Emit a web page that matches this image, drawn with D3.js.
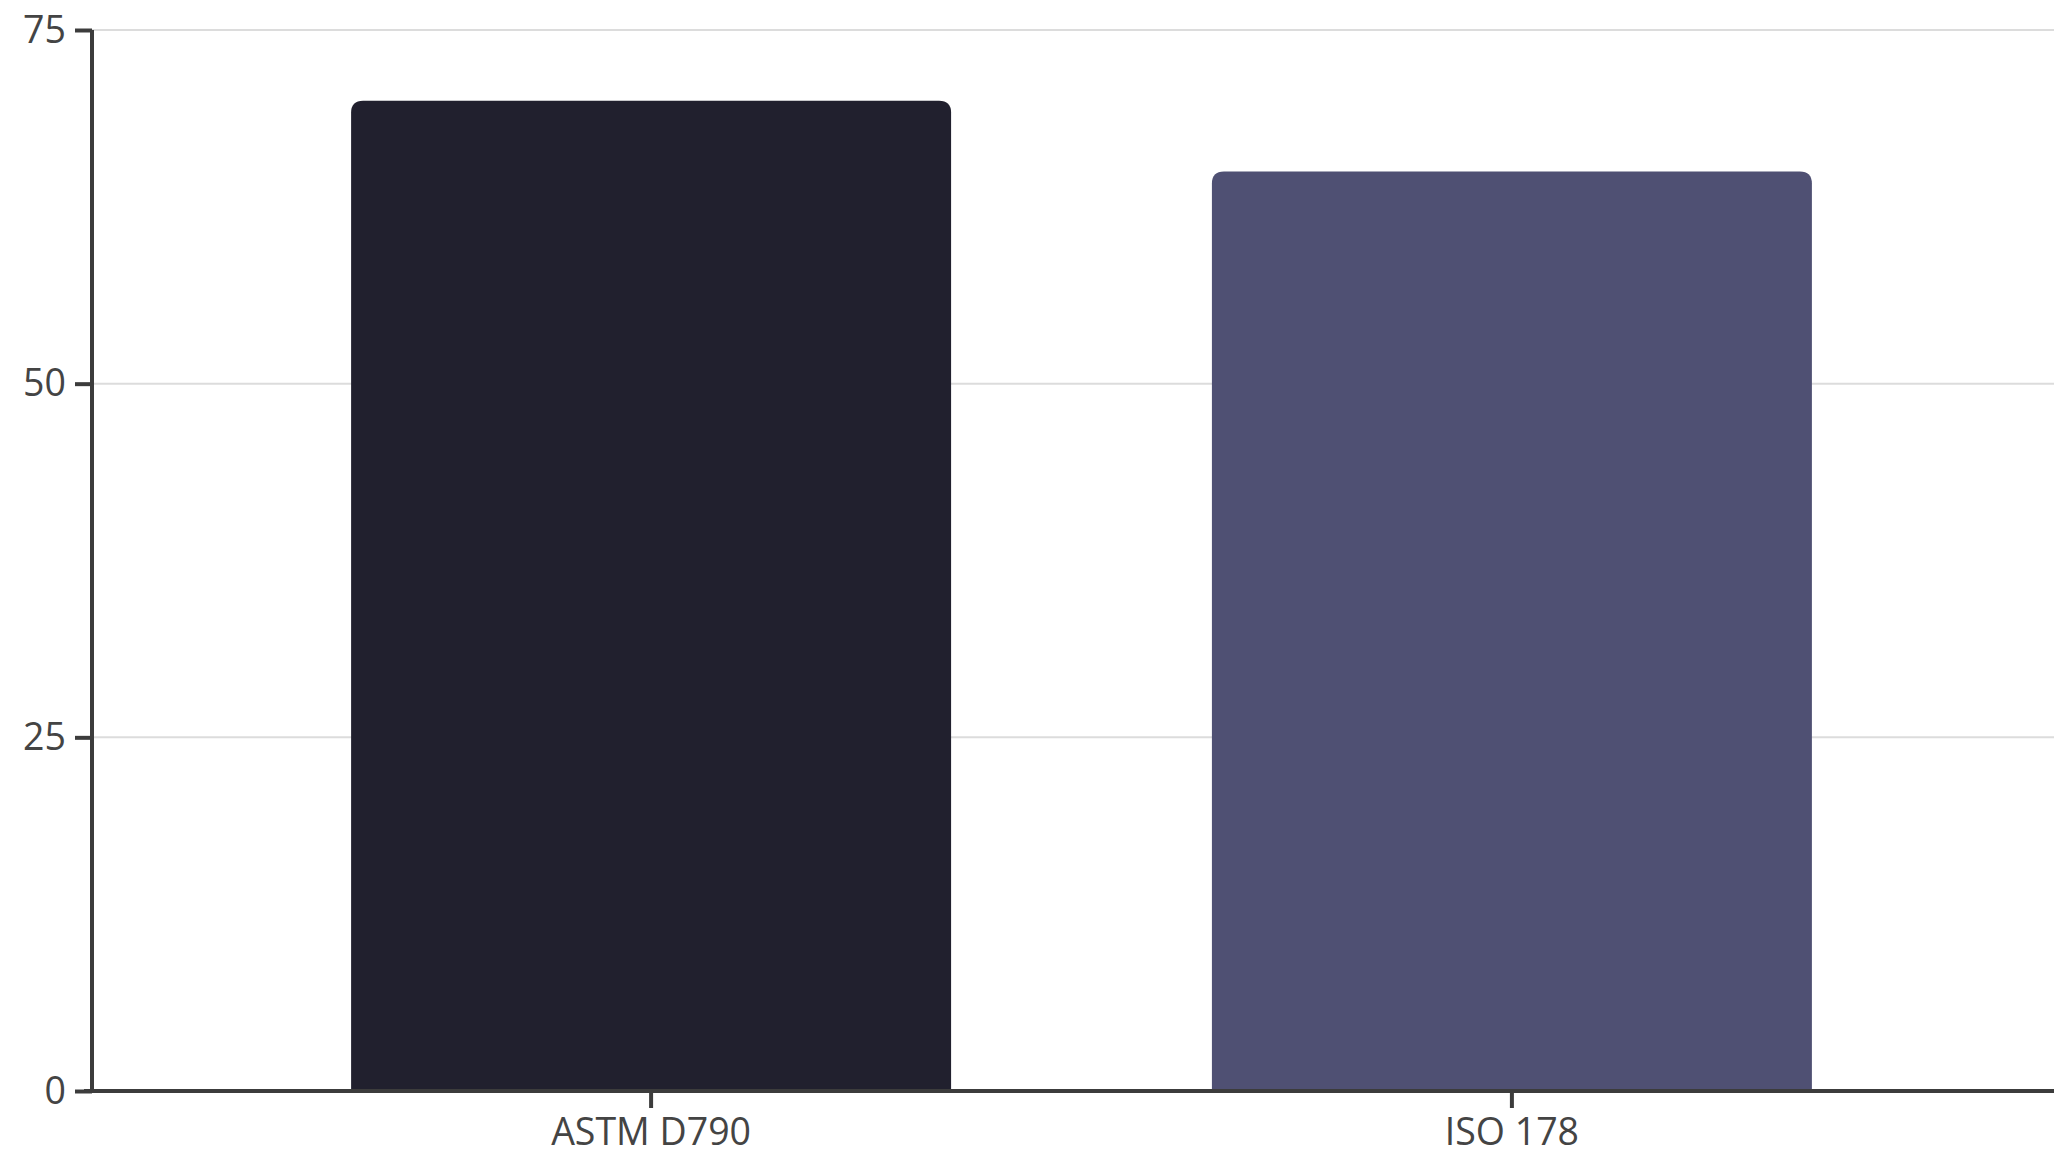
<!DOCTYPE html>
<html>
<head>
<meta charset="utf-8">
<script src="https://cdn.jsdelivr.net/npm/d3@7"></script>
<style>
  body { margin: 0; background: #fff; }
  svg { display: block; }
  .tick text { font-family: "Open Sans", sans-serif; fill: #444; }
</style>
</head>
<body>
<div class="chart"></div>
<script>
var categories = ["ASTM D790", "ISO 178"];
var values = [70, 65];
var barColors = ["#21202e", "#4f5073"];
var yTicks = [0, 25, 50, 75];

var svgWidth = 2054;
var svgHeight = 1153;

var margin = { top: 30, right: 0, bottom: 62, left: 92 };
var height = svgHeight - margin.top - margin.bottom;

var svg = d3.select(".chart")
  .append("svg")
  .attr("width", svgWidth)
  .attr("height", svgHeight);

var chartGroup = svg.append("g")
  .attr("transform", `translate(${margin.left}, ${margin.top})`);

// x band scale runs a bit past the right edge, like the original
var xScale = d3.scaleBand()
  .domain(categories)
  .range([0, 1979])
  .paddingInner(0.303)
  .paddingOuter(0.301);

var yScale = d3.scaleLinear()
  .domain([0, 75])
  .range([height, 0]);

// grid lines
chartGroup.append("g")
  .selectAll("line")
  .data(yTicks.slice(1))
  .enter()
  .append("line")
  .attr("x1", 0)
  .attr("x2", svgWidth)
  .attr("y1", d => yScale(d))
  .attr("y2", d => yScale(d))
  .attr("stroke", "#dcdcdc")
  .attr("stroke-width", 2);

// bars with rounded top corners
var r = 12;
chartGroup.selectAll(".bar")
  .data(values)
  .enter()
  .append("path")
  .attr("class", "bar")
  .attr("fill", (d, i) => barColors[i])
  .attr("d", function(d, i) {
    var x0 = xScale(categories[i]);
    var x1 = x0 + xScale.bandwidth();
    var y0 = yScale(d);
    var yb = yScale(0);
    return `M${x0},${yb} L${x0},${y0 + r} Q${x0},${y0} ${x0 + r},${y0} L${x1 - r},${y0} Q${x1},${y0} ${x1},${y0 + r} L${x1},${yb} Z`;
  });

// axes
var bottomAxis = d3.axisBottom(xScale).tickSizeInner(17).tickSizeOuter(0).tickPadding(10);
var leftAxis = d3.axisLeft(yScale).tickValues(yTicks).tickSizeInner(17).tickSizeOuter(0).tickPadding(9);

var xAxisG = chartGroup.append("g")
  .attr("transform", `translate(0, ${height})`)
  .call(bottomAxis);

var yAxisG = chartGroup.append("g")
  .call(leftAxis);

[xAxisG, yAxisG].forEach(function(g) {
  g.select(".domain").attr("stroke", "#3c3c3c").attr("stroke-width", 4);
  g.selectAll(".tick line").attr("stroke", "#3c3c3c").attr("stroke-width", 4);
  g.selectAll(".tick text").attr("font-size", 37.5);
});

xAxisG.select(".domain").attr("d", `M-8,0H${svgWidth}`);
yAxisG.select(".domain").attr("d", `M0,0V${height + 2}`);
</script>
</body>
</html>
